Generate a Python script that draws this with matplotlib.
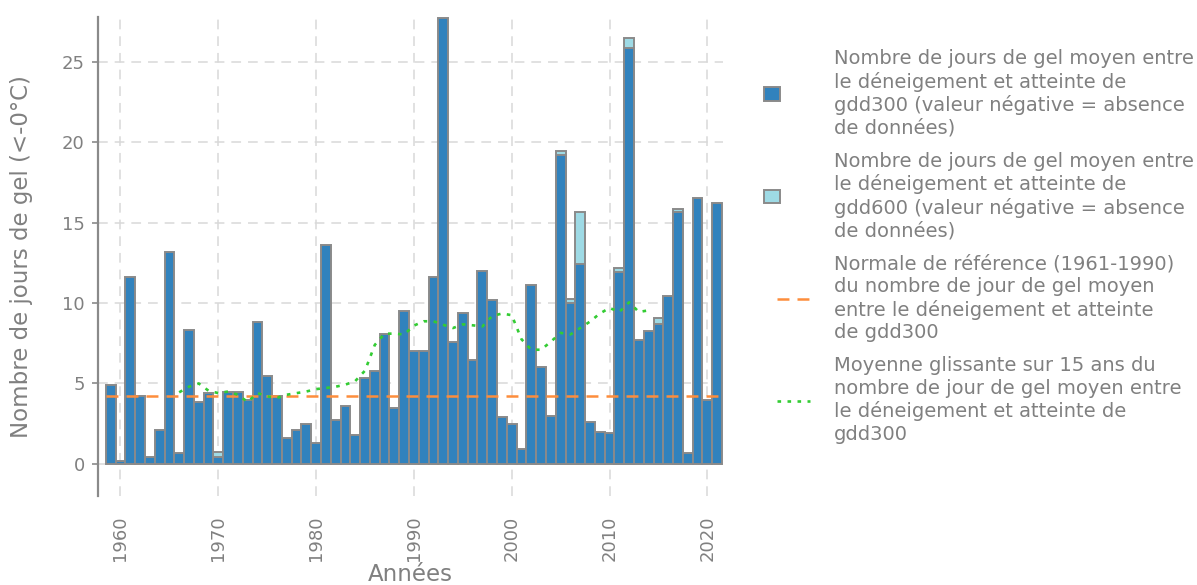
import numpy as np
import matplotlib
matplotlib.use("Agg")
import matplotlib.pyplot as plt
from matplotlib.patches import Rectangle
from matplotlib.lines import Line2D
from matplotlib.legend_handler import HandlerBase

plt.rcParams['font.family'] = ['DejaVu Sans']
plt.rcParams['lines.scale_dashes'] = False

# ---------------- data ----------------
years = list(range(1959, 2022))

gdd300 = [4.9, 0.15, 11.6, 4.2, 0.4, 2.1, 13.2, 0.65, 8.3, 3.85,
          4.4, 0.4, 4.5, 4.45, 3.95, 8.8, 5.45, 4.2, 1.6, 2.1,
          2.45, 1.3, 13.6, 2.75, 3.6, 1.8, 5.35, 5.8, 8.1, 3.45,
          9.5, 7.05, 7.05, 11.65, 27.75, 7.55, 9.4, 6.45, 12.0, 10.2,
          2.9, 2.5, 0.9, 11.15, 6.0, 3.0, 19.2, 10.0, 12.45, 2.6,
          2.0, 1.95, 11.95, 25.85, 7.7, 8.25, 8.7, 10.45, 15.65, 0.7,
          16.55, 3.95, 16.25]

# gdd600 (None = not visible / no data)
gdd600 = [None] * len(years)
gdd600_known = {1970: 0.72, 2005: 19.45, 2006: 10.25, 2007: 15.65,
                2011: 12.2, 2012: 26.5, 2015: 9.05, 2017: 15.85}
for y_, v_ in gdd600_known.items():
    gdd600[years.index(y_)] = v_

normale = 4.2

ma_years = list(range(1966, 2015))
ma_values = [4.45, 4.8, 5.0, 4.55, 4.4, 4.5, 4.3, 3.85, 4.4, 4.2,
             4.1, 4.3, 4.4, 4.5, 4.65, 4.72, 4.8, 4.93, 5.15, 5.8,
             7.4, 8.1, 8.1, 8.05, 8.6, 8.87, 8.87, 8.65, 8.45, 8.68,
             8.62, 8.55, 9.2, 9.35, 9.25, 7.75, 7.1, 7.1, 7.6, 8.15,
             8.05, 8.45, 8.85, 9.35, 9.7, 9.45, 10.05, 9.45, 9.55]

xticks = [1960, 1970, 1980, 1990, 2000, 2010, 2020]
yticks = [0, 5, 10, 15, 20, 25]

labels = [
    "Nombre de jours de gel moyen entre\nle déneigement et atteinte de\ngdd300 (valeur négative = absence\nde données)",
    "Nombre de jours de gel moyen entre\nle déneigement et atteinte de\ngdd600 (valeur négative = absence\nde données)",
    "Normale de référence (1961-1990)\ndu nombre de jour de gel moyen\nentre le déneigement et atteinte\nde gdd300",
    "Moyenne glissante sur 15 ans du\nnombre de jour de gel moyen entre\nle déneigement et atteinte de\ngdd300",
]

# ---------------- style ----------------
C_DARK = '#3182bd'
C_LIGHT = '#9edae5'
C_EDGE = '#8a8a8a'
C_ORANGE = '#fd8d3c'
C_GREEN = '#33cc33'
C_TEXT = '#808080'
C_GRID = '#d9d9d9'

fig = plt.figure(figsize=(11.97, 5.85), dpi=100)
ax = fig.add_axes([98/1197, (585-496)/585, (723-98)/1197, (496-17)/585])

g600 = np.array([np.nan if v is None else v for v in gdd600], dtype=float)
ax.bar(years, g600, width=1.0, color=C_LIGHT, edgecolor=C_EDGE, linewidth=1.4, zorder=2)
ax.bar(years, gdd300, width=1.0, color=C_DARK, edgecolor=C_EDGE, linewidth=1.4, zorder=3)

ax.hlines(normale, years[0] - 0.5, years[-1] + 0.5, colors=C_ORANGE,
          linestyles=(0, (8.6, 5.8)), linewidth=1.8, zorder=4)
ax.plot(ma_years, ma_values, color=C_GREEN, linestyle=(0, (2.6, 4.6)),
        linewidth=1.9, zorder=5)

ax.set_xlim(1957.7, 2021.6)
ax.set_ylim(-2.0, 27.8)
ax.set_xticks(xticks)
ax.set_yticks(yticks)

ax.grid(True, color=C_GRID, linestyle=(0, (7, 5)), linewidth=1.1, zorder=0)
ax.set_axisbelow(True)

for s in ['top', 'right', 'bottom']:
    ax.spines[s].set_visible(False)
ax.spines['left'].set_color(C_EDGE)
ax.spines['left'].set_linewidth(1.6)

ax.tick_params(axis='x', length=0, pad=14, labelsize=13, labelcolor=C_TEXT, labelrotation=90)
ax.tick_params(axis='y', length=4.5, width=1.2, color=C_EDGE, pad=5, labelsize=13, labelcolor=C_TEXT)

ax.set_xlabel("Années", fontsize=16.5, color=C_TEXT)
ax.set_ylabel("Nombre de jours de gel (<-0°C)", fontsize=16.5, color=C_TEXT)
ax.xaxis.set_label_coords(0.5, -0.14)
ax.yaxis.set_label_coords(-0.104, 0.5)


class SmallRectHandler(HandlerBase):
    def create_artists(self, legend, orig_handle, xdescent, ydescent,
                       width, height, fontsize, trans):
        w, h = 12.0, 9.6
        x0 = -xdescent
        y0 = -ydescent + height / 2 - h / 2
        r = Rectangle((x0, y0), w, h, facecolor=orig_handle.get_facecolor(),
                      edgecolor=orig_handle.get_edgecolor(),
                      linewidth=orig_handle.get_linewidth(), transform=trans)
        return [r]


class ShortLineHandler(HandlerBase):
    def create_artists(self, legend, orig_handle, xdescent, ydescent,
                       width, height, fontsize, trans):
        x0 = -xdescent + 10
        x1 = -xdescent + width
        yy = -ydescent + height / 2
        ln = Line2D([x0, x1], [yy, yy])
        ln.update_from(orig_handle)
        ln.set_transform(trans)
        return [ln]


h1 = Rectangle((0, 0), 1, 1, facecolor=C_DARK, edgecolor=C_EDGE, linewidth=1.4)
h2 = Rectangle((0, 0), 1, 1, facecolor=C_LIGHT, edgecolor=C_EDGE, linewidth=1.4)
h3 = Line2D([], [], color=C_ORANGE, linestyle=(0, (8.6, 5.8)), linewidth=1.8)
h4 = Line2D([], [], color=C_GREEN, linestyle=(0, (2.6, 4.6)), linewidth=1.9)

leg = fig.legend([h1, h2, h3, h4], labels, loc='center left',
                 bbox_to_anchor=(0.6233, 0.579), frameon=False, fontsize=14,
                 handlelength=2.37, handletextpad=1.23, labelspacing=0.72,
                 borderpad=0.4,
                 handler_map={Rectangle: SmallRectHandler(), Line2D: ShortLineHandler()})
for t in leg.get_texts():
    t.set_color(C_TEXT)
    t.set_linespacing(1.23)

fig.savefig("out.png", dpi=100)
